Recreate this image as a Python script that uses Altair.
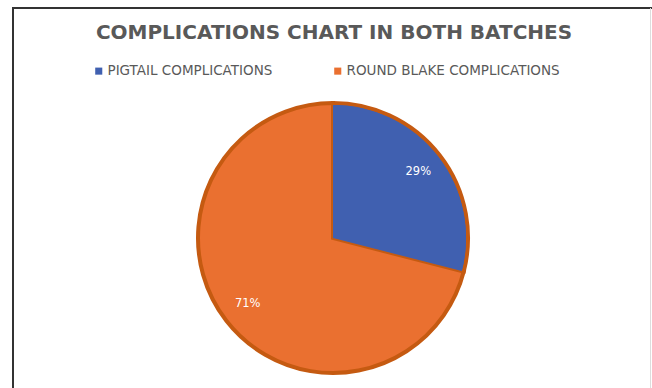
import altair as alt
import pandas as pd

categories = ["PIGTAIL  COMPLICATIONS", "ROUND BLAKE  COMPLICATIONS"]
values = [29, 71]
labels = ["29%", "71%"]
colors = ["#4060B0", "#EA7030"]

df = pd.DataFrame({"cat": categories, "val": values, "label": labels, "ord": [0, 1]})

W, H = 652, 388
CX, CY = 333, 238

color_scale = alt.Scale(domain=categories, range=colors)

base = alt.Chart(df).encode(
    theta=alt.Theta("val:Q", stack=True),
    order=alt.Order("ord:Q"),
)

pie = base.mark_arc(outerRadius=135, strokeWidth=4, stroke="#C55A11").encode(
    x=alt.value(CX), y=alt.value(CY),
    color=alt.Color("cat:N", scale=color_scale, sort=categories,
                    legend=alt.Legend(title=None, orient="none", direction="horizontal",
                                      legendX=92, legendY=64, symbolType="square",
                                      symbolSize=50, symbolStrokeWidth=0,
                                      labelFont="DejaVu Sans", labelFontSize=13.5,
                                      labelColor="#595959", labelOffset=2,
                                      columnPadding=54, labelLimit=400)),
)

blue_edge = alt.Chart(df[df.ord == 0]).mark_arc(outerRadius=133, strokeWidth=0).encode(
    x=alt.value(CX), y=alt.value(CY),
    theta=alt.Theta("val:Q", scale=alt.Scale(domain=[0, 100])),
    color=alt.Color("cat:N", scale=color_scale, legend=None),
)

text = base.mark_text(radius=108, font="DejaVu Sans", fontSize=11.5, color="white").encode(
    x=alt.value(CX), y=alt.value(CY), text="label:N"
)

title_df = pd.DataFrame({"t": ["COMPLICATIONS CHART IN BOTH BATCHES"]})
title = alt.Chart(title_df).mark_text(font="DejaVu Sans", fontSize=20, fontWeight="bold",
                                      color="#595959", align="center", baseline="middle").encode(
    x=alt.value(334), y=alt.value(33), text="t:N")

left = alt.Chart(title_df).mark_rule(color="#333333", strokeWidth=2).encode(
    x=alt.value(13), y=alt.value(7), y2=alt.value(H))
top = alt.Chart(title_df).mark_rule(color="#333333", strokeWidth=2).encode(
    x=alt.value(12), x2=alt.value(W), y=alt.value(8))
right = alt.Chart(title_df).mark_rule(color="#dddddd", strokeWidth=1).encode(
    x=alt.value(650.5), y=alt.value(8), y2=alt.value(H))

chart = alt.layer(pie, blue_edge, text, title, left, top, right).resolve_scale(theta="independent").properties(
    width=W, height=H, padding=0, autosize=alt.AutoSizeParams(type="none"),
    background="white"
).configure_view(stroke=None)

chart.save("out.html", embed_options={"renderer": "svg", "actions": False})
